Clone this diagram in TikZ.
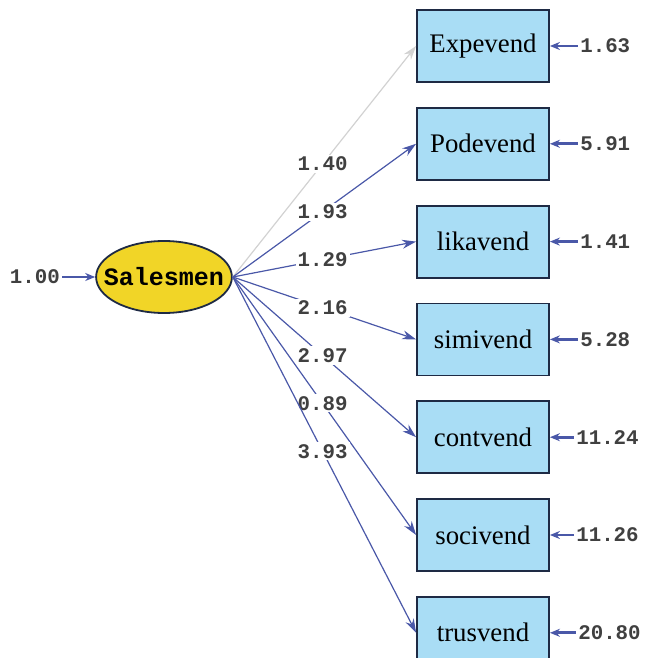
\documentclass[tikz,border=0pt]{standalone}
\usepackage{fontspec}
\setmainfont{Liberation Serif}
\setmonofont{Liberation Mono}
\usepackage{xcolor}
\usepackage{tikz}
\usetikzlibrary{arrows.meta,positioning,shapes.geometric}
\definecolor{semBox}{HTML}{A9DDF5}
\definecolor{semLatent}{HTML}{F1D527}
\definecolor{semLine}{HTML}{4A58A8}
\definecolor{semEdge}{HTML}{1E2A44}
\definecolor{semFaint}{HTML}{D2D2D2}
\tikzset{
  observed/.style={rectangle, draw=semEdge, line width=0.9pt, fill=semBox, minimum width=66pt, minimum height=36pt, font=\fontsize{13.4}{15}\selectfont},
  latent/.style={ellipse, draw=semEdge, line width=0.9pt, fill=semLatent, minimum height=36pt, inner xsep=-6pt, inner ysep=0pt, font=\ttfamily\bfseries\fontsize{12.5}{14}\selectfont},
  est/.style={font=\ttfamily\bfseries\fontsize{10.4}{12}\selectfont, text=black!75, inner sep=1pt},
  load/.style={-{Stealth[length=7pt,width=4.5pt]}, draw=semLine, line width=0.6pt},
  err/.style={-{Stealth[length=5pt,width=4pt]}, draw=semLine, line width=1.4pt}
}
\begin{document}
\begin{tikzpicture}[x=0.5pt, y=-0.5pt, node distance=12pt]
\useasboundingbox (0,0) rectangle (646,658);
\node[latent] (sales) at (164,277) {Salesmen};
\node[observed] (expe) at (483,46) {Expevend};
\node[observed, below=of expe] (pode) {Podevend};
\node[observed, below=of pode] (lika) {likavend};
\node[observed, below=of lika] (simi) {simivend};
\node[observed, below=of simi] (cont) {contvend};
\node[observed, below=of cont] (soci) {socivend};
\node[observed, below=of soci] (trus) {trusvend};
% error variances
\node[est, left=16.5pt of sales] (esales) {1.00};
\node[est, right=14pt of expe] (eexpe) {1.63};
\node[est, right=14pt of pode] (epode) {5.91};
\node[est, right=14pt of lika] (elika) {1.41};
\node[est, right=14pt of simi] (esimi) {5.28};
\node[est, right=12pt of cont] (econt) {11.24};
\node[est, right=12pt of soci] (esoci) {11.26};
\node[est, right=13pt of trus] (etrus) {20.80};
\draw[err] (esales.east) -- (sales.west);
\draw[err] (eexpe.west) -- (expe.east);
\draw[err] (epode.west) -- (pode.east);
\draw[err] (elika.west) -- (lika.east);
\draw[err] (esimi.west) -- (simi.east);
\draw[err] (econt.west) -- (cont.east);
\draw[err] (esoci.west) -- (soci.east);
\draw[err] (etrus.west) -- (trus.east);
% loadings
\draw[load, draw=semFaint] (sales.east) -- node[est, fill=white, pos=0.49]{1.40} (expe.west);
\draw[load] (sales.east) -- node[est, fill=white, pos=0.49]{1.93} (pode.west);
\draw[load] (sales.east) -- node[est, fill=white, pos=0.49]{1.29} (lika.west);
\draw[load] (sales.east) -- node[est, fill=white, pos=0.49]{2.16} (simi.west);
\draw[load] (sales.east) -- node[est, fill=white, pos=0.49]{2.97} (cont.west);
\draw[load] (sales.east) -- node[est, fill=white, pos=0.49]{0.89} (soci.west);
\draw[load] (sales.east) -- node[est, fill=white, pos=0.49]{3.93} (trus.west);
\end{tikzpicture}
\end{document}
